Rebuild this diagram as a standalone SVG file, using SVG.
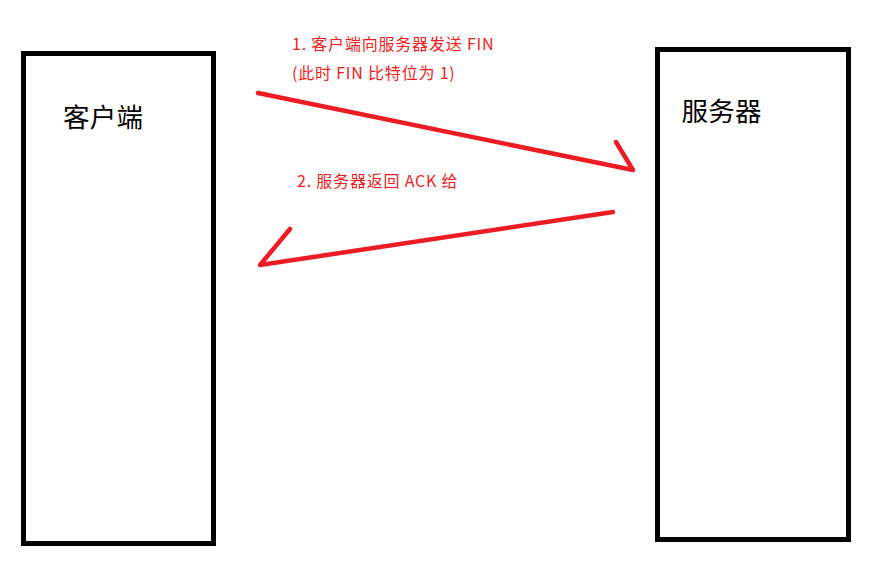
<svg xmlns="http://www.w3.org/2000/svg" width="872" height="570" viewBox="0 0 872 570">
<style>
.box{fill:#fff;stroke:#000;stroke-width:5}
.lbl{font-family:"Microsoft YaHei","Noto Sans CJK SC","Noto Sans",sans-serif;fill:#000;font-size:26.5px;letter-spacing:0.3px}
.note{font-family:"Microsoft YaHei","Noto Sans CJK SC","Noto Sans",sans-serif;fill:#ed1c24;font-size:16px;letter-spacing:0.8px}
.arr{fill:none;stroke:#ed1c24;stroke-width:4.5;stroke-linecap:round;stroke-linejoin:round}
</style>
<rect width="872" height="570" fill="#fff"/>
<g id="client">
<rect class="box" x="23.5" y="53.5" width="190" height="490"/>
<text class="lbl" x="63" y="127">客户端</text>
</g>
<g id="server">
<rect class="box" x="657.5" y="49.5" width="191" height="490"/>
<text class="lbl" x="681.5" y="121">服务器</text>
</g>
<g id="connectors">
<path class="arr" d="M258,93 L633,170 L616,142"/>
<path class="arr" d="M613,212 L260,265 L290,229"/>
</g>
<g id="labels">
<text class="note" x="292" y="50">1. 客户端向服务器发送 FIN</text>
<text class="note" x="292" y="79">(此时 FIN 比特位为 1)</text>
<text class="note" x="297" y="187">2. 服务器返回 ACK 给</text>
</g>
</svg>
